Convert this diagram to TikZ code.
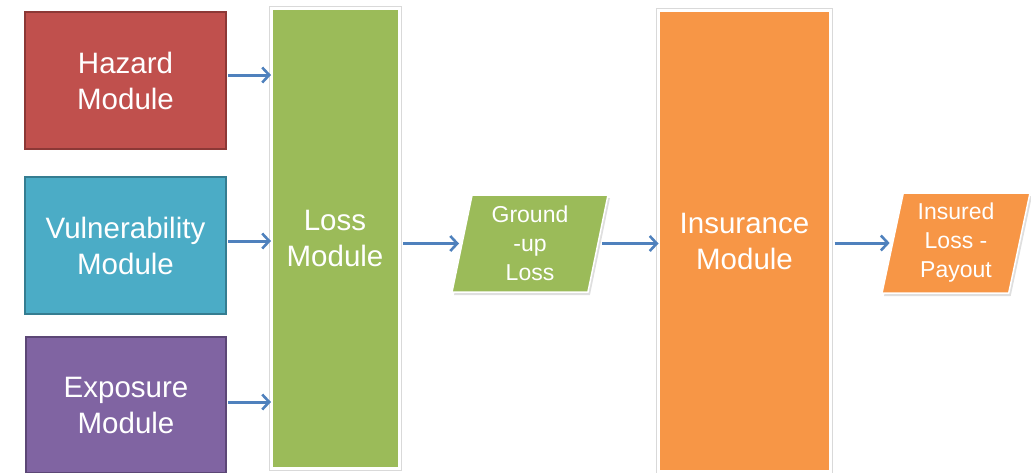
\documentclass[tikz,border=0pt]{standalone}
\usepackage{fontspec}
\setmainfont{Liberation Sans}
\usetikzlibrary{arrows.meta,shapes.geometric,shadows}
\definecolor{hazred}{HTML}{C0504D}
\definecolor{hazredd}{HTML}{8C3836}
\definecolor{vulblue}{HTML}{4BACC6}
\definecolor{vulblued}{HTML}{357D91}
\definecolor{expurp}{HTML}{8064A2}
\definecolor{expurpd}{HTML}{5C4776}
\definecolor{lossgreen}{HTML}{9BBB59}
\definecolor{insorange}{HTML}{F79646}
\definecolor{arrowblue}{HTML}{4F81BD}
\tikzset{
  bigtext/.style={font=\fontsize{29.5}{36}\selectfont, text=white, align=center},
  smalltext/.style={font=\fontsize{23}{29}\selectfont, text=white, align=center},
  inbox/.style={rectangle, bigtext, minimum width=201pt, minimum height=137pt, inner sep=0pt, outer sep=0pt, line width=1.5pt},
  tallbox/.style={rectangle, bigtext, inner sep=0pt, outer sep=0pt,
    preaction={draw=black!15, line width=5pt}, draw=white, line width=3pt},
  para/.style={trapezium, trapezium left angle=75, trapezium right angle=105, trapezium stretches body=true,
    smalltext, inner sep=0pt, outer sep=0pt, draw=white, line width=1.5pt,
    drop shadow={opacity=0.25, shadow xshift=2pt, shadow yshift=-3pt}},
  flow/.style={draw=arrowblue, line width=3pt, -{Straight Barb[length=7pt,width=15pt,line width=2.6pt]}}
}
\begin{document}
\begin{tikzpicture}[x=1pt,y=-1pt]
\useasboundingbox (0,0) rectangle (1031,472);
\node[inbox, fill=hazred, draw=hazredd] (hazard) at (125.5,80.5) {Hazard\\Module};
\node[inbox, fill=vulblue, draw=vulblued] (vuln) at (125.5,245.5) {Vulnerability\\Module};
\node[inbox, fill=expurp, draw=expurpd, minimum width=200pt, minimum height=136pt] (expo) at (126,405) {Exposure\\Module};
\node[tallbox, fill=lossgreen, minimum width=128pt, minimum height=460pt] (loss) at (335,238.5) {Loss\\Module};
\node[para, fill=lossgreen, minimum width=156pt, minimum height=97pt] (gul) at (530,243.5) {Ground\\-up\\Loss};
\node[tallbox, fill=insorange, minimum width=172pt, minimum height=461pt] (ins) at (744.5,241) {Insurance\\Module};
\node[para, fill=insorange, minimum width=148pt, minimum height=100pt] (pay) at (956,243) {Insured\\Loss -\\Payout};
\draw[flow] ([yshift=5.5pt,xshift=2pt]hazard.east) -- ([yshift=5.5pt]hazard.east -| loss.west);
\draw[flow] ([yshift=4.5pt,xshift=2pt]vuln.east) -- ([yshift=4.5pt]vuln.east -| loss.west);
\draw[flow] ([yshift=3pt,xshift=2pt]expo.east) -- ([yshift=3pt]expo.east -| loss.west);
\draw[flow] ([xshift=4pt]loss.east |- gul.west) -- ([xshift=-3pt]gul.west);
\draw[flow] ([xshift=4pt]gul.east) -- (ins.west |- gul.east);
\draw[flow] ([xshift=4pt]ins.east |- pay.west) -- ([xshift=-3pt]pay.west);
\end{tikzpicture}
\end{document}
